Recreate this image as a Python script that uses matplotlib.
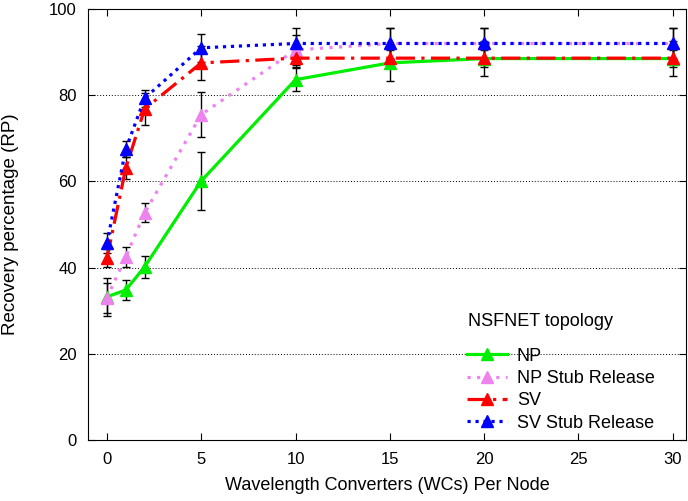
import numpy as np
import matplotlib
matplotlib.use('Agg')
import matplotlib.pyplot as plt

plt.rcParams['font.family'] = ['Liberation Sans', 'DejaVu Sans']

wcs = [0, 1, 2, 5, 10, 15, 20, 30]

np_vals = [33.2, 34.8, 40.2, 60.1, 83.6, 87.5, 88.5, 88.5]
np_err = [4.5, 2.3, 2.5, 6.8, 2.7, 4.2, 4.0, 4.0]

np_stub = [33.0, 42.5, 52.7, 75.5, 90.5, 92.0, 92.0, 92.0]
np_stub_err = [3.5, 2.3, 2.2, 5.3, 3.5, 3.5, 3.5, 3.5]

sv_vals = [42.2, 63.1, 76.8, 87.5, 88.6, 88.6, 88.6, 88.6]
sv_err = [2.0, 2.5, 3.7, 4.0, 2.0, 2.0, 2.0, 2.0]

sv_stub = [45.7, 67.5, 79.3, 91.0, 92.0, 92.0, 92.0, 92.0]
sv_stub_err = [2.3, 1.8, 2.0, 3.2, 3.7, 3.7, 3.7, 3.7]

fig = plt.figure(figsize=(6.88, 5.01), dpi=100)
ax = fig.add_axes([0.128, 0.1218, 0.869, 0.8602])

series = [
    ('NP', np_vals, np_err, '#00ee00', '-'),
    ('NP Stub Release', np_stub, np_stub_err, '#ee82ee', (0, (1, 2))),
    ('SV', sv_vals, sv_err, '#ff0000', (0, (6, 2, 1, 2))),
    ('SV Stub Release', sv_stub, sv_stub_err, '#0000ff', (0, (1, 1.5))),
]

for name, vals, err, col, ls in series:
    ax.errorbar(wcs, vals, yerr=err, fmt='none', ecolor='black', elinewidth=1,
                capsize=3, capthick=1, zorder=2)
for name, vals, err, col, ls in series:
    ax.plot(wcs, vals, color=col, linestyle=ls, linewidth=2.3, marker='^',
            markersize=9, label=name, zorder=3)

ax.set_xlim(-1, 30.7)
ax.set_ylim(0, 100)
ax.set_xticks([0, 5, 10, 15, 20, 25, 30])
ax.set_yticks([0, 20, 40, 60, 80, 100])
ax.yaxis.grid(True, linestyle=(0, (1, 2)), color='black', linewidth=0.7)
ax.tick_params(direction='in', top=True, right=True, labelsize=12, length=5)
ax.tick_params(axis='x', pad=9)
ax.tick_params(axis='y', pad=8)
ax.set_xlabel('Wavelength Converters (WCs) Per Node', fontsize=13, labelpad=7)
ax.set_ylabel('Recovery percentage (RP)', fontsize=13.5, labelpad=22)

ax.text(0.756, 0.276, 'NSFNET topology', transform=ax.transAxes,
        ha='center', va='center', fontsize=13)
ax.legend(loc='lower left', frameon=False, fontsize=13, handlelength=2.2,
          handletextpad=0.55, labelspacing=0.3, borderpad=0, borderaxespad=0,
          bbox_to_anchor=(0.634, 0.019))

fig.savefig('out.png', dpi=100)
